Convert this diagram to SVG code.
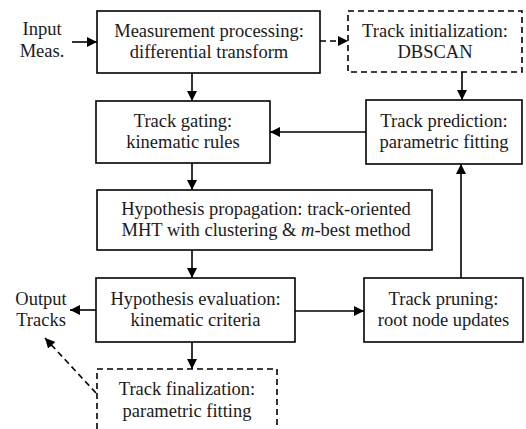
<svg xmlns="http://www.w3.org/2000/svg" width="526" height="429" viewBox="0 0 526 429">
<defs>
<style>
.box{fill:#fff;stroke:#000;stroke-width:1.6}
.dbox{fill:#fff;stroke:#000;stroke-width:1.6;stroke-dasharray:6,4}
.t{fill:#1a1a1a;text-anchor:middle}
.c{fill:none;stroke:#000;stroke-width:1.6}
.dc{fill:none;stroke:#000;stroke-width:1.6;stroke-dasharray:6,4}
</style>
<marker id="ah" viewBox="0 0 10 10" refX="10" refY="5" markerWidth="10" markerHeight="10" markerUnits="userSpaceOnUse" orient="auto">
<path d="M0,0 L10,5 L0,10 z" fill="#000"/>
</marker>
</defs>
<rect width="526" height="429" fill="#fff"/>
<g id="connectors">
<line class="c" x1="72" y1="42" x2="97" y2="42" marker-end="url(#ah)"/>
<line class="dc" x1="320" y1="41" x2="348" y2="41" marker-end="url(#ah)"/>
<line class="c" x1="192" y1="73" x2="192" y2="101" marker-end="url(#ah)"/>
<line class="c" x1="192" y1="163" x2="192" y2="190" marker-end="url(#ah)"/>
<line class="c" x1="192" y1="250" x2="192" y2="278" marker-end="url(#ah)"/>
<line class="c" x1="192" y1="342" x2="192" y2="369" marker-end="url(#ah)"/>
<line class="c" x1="462" y1="72" x2="462" y2="100" marker-end="url(#ah)"/>
<line class="c" x1="366" y1="132" x2="270" y2="132" marker-end="url(#ah)"/>
<line class="c" x1="461" y1="278" x2="461" y2="164" marker-end="url(#ah)"/>
<line class="c" x1="295" y1="311" x2="364" y2="311" marker-end="url(#ah)"/>
<line class="c" x1="96" y1="310" x2="70" y2="310" marker-end="url(#ah)"/>
<line class="dc" x1="96" y1="393" x2="45" y2="338" marker-end="url(#ah)"/>
</g>
<g font-family="Liberation Serif" font-size="18.5">
<g id="input"><text class="t" x="42" y="35">Input</text><text class="t" x="42" y="57">Meas.</text></g>
<g id="output"><text class="t" x="41" y="305">Output</text><text class="t" x="41" y="326">Tracks</text></g>
<g id="meas"><rect class="box" x="97" y="11" width="223" height="62"/><text class="t" x="209" y="37">Measurement processing:</text><text class="t" x="209" y="58">differential transform</text></g>
<g id="init"><rect class="dbox" x="348" y="11" width="174" height="61"/><text class="t" x="435" y="37">Track initialization:</text><text class="t" x="435" y="58">DBSCAN</text></g>
<g id="gating"><rect class="box" x="96" y="101" width="174" height="62"/><text class="t" x="183" y="127">Track gating:</text><text class="t" x="183" y="148">kinematic rules</text></g>
<g id="prediction"><rect class="box" x="366" y="100" width="156" height="64"/><text class="t" x="444" y="127">Track prediction:</text><text class="t" x="444" y="148">parametric fitting</text></g>
<g id="propagation"><rect class="box" x="97" y="190" width="335" height="60"/><text class="t" x="266" y="215">Hypothesis propagation: track-oriented</text><text class="t" x="266" y="236">MHT with clustering &amp; <tspan font-style="italic">m</tspan>-best method</text></g>
<g id="evaluation"><rect class="box" x="96" y="278" width="199" height="64"/><text class="t" x="195.5" y="305">Hypothesis evaluation:</text><text class="t" x="195.5" y="326">kinematic criteria</text></g>
<g id="pruning"><rect class="box" x="364" y="278" width="159" height="64"/><text class="t" x="443.5" y="305">Track pruning:</text><text class="t" x="443.5" y="326">root node updates</text></g>
<g id="finalization"><rect class="dbox" x="97" y="369" width="180" height="70"/><text class="t" x="187" y="395">Track finalization:</text><text class="t" x="187" y="417">parametric fitting</text></g>
</g>
</svg>
